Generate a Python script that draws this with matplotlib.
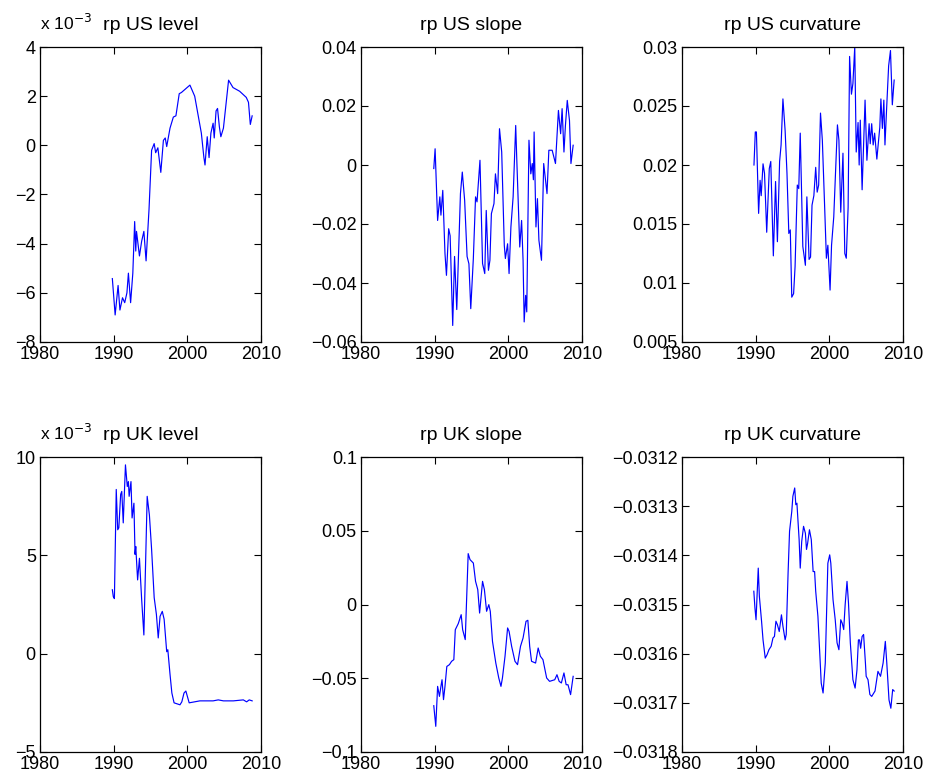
import matplotlib
matplotlib.use("Agg")
import matplotlib.pyplot as plt
import numpy as np
from matplotlib.ticker import FuncFormatter

plt.rcParams['font.family'] = ['Liberation Sans', 'DejaVu Sans']

# rp US level (values in 1e-3)
us_level_t = [1989.82, 1990.2, 1990.6, 1990.85, 1991.2, 1991.5, 1991.8, 1992.0, 1992.3, 1992.6,
              1992.85, 1993.0, 1993.1, 1993.5, 1993.8, 1994.1, 1994.4, 1994.8, 1995.15, 1995.5,
              1995.7, 1996.0, 1996.4, 1996.75, 1997.0, 1997.2, 1997.65, 1998.1, 1998.45, 1998.9,
              1999.2, 2000.35, 2001.0, 2001.6, 2001.9, 2002.25, 2002.4, 2002.7, 2002.95, 2003.2,
              2003.5, 2003.65, 2003.9, 2004.1, 2004.35, 2004.55, 2004.9, 2005.6, 2006.2, 2007.1,
              2008.0, 2008.3, 2008.55, 2008.8]
us_level_v = [-5.42, -6.9, -5.7, -6.7, -6.2, -6.4, -6.0, -5.2, -6.4, -5.2,
              -3.1, -4.3, -3.5, -4.5, -3.9, -3.5, -4.7, -2.6, -0.2, 0.07,
              -0.3, -0.1, -1.1, 0.2, 0.3, -0.05, 0.7, 1.15, 1.2, 2.1,
              2.15, 2.45, 2.0, 1.0, 0.5, -0.5, -0.8, 0.35, -0.5, 0.5,
              0.9, 0.3, 1.4, 1.5, 0.75, 0.35, 0.7, 2.65, 2.35, 2.2,
              1.95, 1.75, 0.85, 1.2]

# rp US slope
us_slope_t = [1989.88, 1990.06, 1990.4, 1990.7, 1990.85, 1991.1, 1991.4, 1991.6, 1991.9, 1992.1,
              1992.45, 1992.7, 1993.0, 1993.3, 1993.5, 1993.75, 1994.07, 1994.4, 1994.65, 1994.9,
              1995.25, 1995.55, 1995.75, 1996.15, 1996.5, 1996.8, 1997.0, 1997.3, 1997.5, 1997.7,
              1998.05, 1998.25, 1998.55, 1998.8, 1999.1, 1999.45, 1999.6, 1999.9, 2000.1, 2000.35,
              2000.65, 2001.0, 2001.15, 2001.55, 2001.8, 2002.0, 2002.15, 2002.35, 2002.5, 2002.8,
              2003.05, 2003.25, 2003.4, 2003.5, 2003.75, 2003.95, 2004.15, 2004.5, 2004.8, 2005.25,
              2005.5, 2005.95, 2006.4, 2006.8, 2007.1, 2007.3, 2007.55, 2007.75, 2008.0, 2008.3,
              2008.5, 2008.8]
us_slope_v = [-0.0012, 0.0055, -0.0188, -0.0108, -0.017, -0.0086, -0.030, -0.0374, -0.0216, -0.024,
              -0.0544, -0.031, -0.049, -0.0255, -0.0097, -0.0024, -0.012, -0.031, -0.0335, -0.0487,
              -0.0317, -0.0108, -0.0125, 0.0016, -0.0334, -0.0368, -0.0154, -0.0357, -0.0323, -0.0165,
              -0.0131, -0.003, -0.0097, 0.0123, 0.0044, -0.0272, -0.0317, -0.0267, -0.0368, -0.021,
              -0.0108, 0.0134, 0.0016, -0.0278, -0.0188, -0.0323, -0.0532, -0.0442, -0.0498, 0.0084,
              -0.003, 0.0005, -0.005, 0.0112, -0.021, -0.0114, -0.0255, -0.0323, 0.0005, -0.0097,
              0.0050, 0.0050, 0.0005, 0.0185, 0.0106, 0.0191, 0.0044, 0.0134, 0.0219, 0.0151,
              0.0005, 0.0067]

# rp US curvature
us_curv_t = [1989.77, 1989.95, 1990.1, 1990.4, 1990.6, 1990.75, 1991.0, 1991.2, 1991.4, 1991.5,
             1991.85, 1992.05, 1992.4, 1992.7, 1992.95, 1993.25, 1993.45, 1993.7, 1994.0, 1994.25,
             1994.5, 1994.7, 1994.9, 1995.15, 1995.35, 1995.65, 1995.85, 1996.05, 1996.4, 1996.75,
             1996.95, 1997.25, 1997.45, 1997.65, 1997.9, 1998.15, 1998.35, 1998.55, 1998.8, 1999.05,
             1999.35, 1999.6, 1999.8, 2000.1, 2000.3, 2000.6, 2000.85, 2001.1, 2001.3, 2001.55,
             2001.85, 2002.1, 2002.3, 2002.55, 2002.75, 2003.0, 2003.2, 2003.45, 2003.65, 2003.9,
             2004.05, 2004.2, 2004.45, 2004.85, 2005.1, 2005.4, 2005.55, 2005.75, 2005.95, 2006.15,
             2006.45, 2006.85, 2007.0, 2007.2, 2007.4, 2007.55, 2007.8, 2008.05, 2008.3, 2008.55,
             2008.8]
us_curv_v = [0.0200, 0.0228, 0.0228, 0.0159, 0.0187, 0.0174, 0.0201, 0.0193, 0.0160, 0.0143,
             0.0197, 0.0203, 0.0123, 0.0186, 0.0135, 0.0203, 0.0217, 0.0256, 0.0229, 0.0193,
             0.0142, 0.0145, 0.0088, 0.0091, 0.0114, 0.0183, 0.0180, 0.0227, 0.0131, 0.0115,
             0.0173, 0.0120, 0.0122, 0.0166, 0.0174, 0.0198, 0.0177, 0.0183, 0.0244, 0.0221,
             0.0167, 0.0121, 0.0132, 0.0094, 0.0132, 0.0156, 0.0195, 0.0234, 0.0221, 0.0160,
             0.0210, 0.0125, 0.0121, 0.0164, 0.0292, 0.0260, 0.0269, 0.0300, 0.0211, 0.0236,
             0.0200, 0.0238, 0.0179, 0.0255, 0.0204, 0.0235, 0.0218, 0.0235, 0.0217, 0.0227,
             0.0205, 0.0232, 0.0256, 0.0231, 0.0255, 0.0217, 0.0251, 0.0284, 0.0297, 0.0251,
             0.0272]

# rp UK level (values in 1e-3)
uk_level_t = [1989.82, 1989.95, 1990.1, 1990.35, 1990.55, 1990.7, 1990.95, 1991.1, 1991.3, 1991.6,
              1991.85, 1992.0, 1992.1, 1992.35, 1992.5, 1992.75, 1992.9, 1993.0, 1993.25, 1993.5,
              1993.8, 1994.1, 1994.55, 1994.85, 1995.15, 1995.5, 1995.8, 1996.05, 1996.3, 1996.6,
              1996.85, 1997.2, 1997.35, 1997.65, 1997.9, 1998.2, 1999.0, 1999.25, 1999.55, 1999.8,
              2000.25, 2001.7, 2003.5, 2004.2, 2004.9, 2006.25, 2007.6, 2008.05, 2008.4, 2008.8]
uk_level_v = [3.25, 2.9, 2.8, 8.35, 6.3, 6.4, 8.1, 8.25, 6.65, 9.6,
              8.5, 8.75, 8.0, 8.75, 6.9, 7.65, 5.05, 5.45, 3.75, 4.85,
              2.75, 0.95, 8.0, 7.05, 5.3, 2.85, 2.0, 0.8, 1.9, 2.15,
              1.75, 0.1, 0.2, -1.05, -2.0, -2.5, -2.6, -2.45, -2.0, -1.9,
              -2.5, -2.4, -2.4, -2.35, -2.4, -2.4, -2.35, -2.45, -2.35, -2.4]

# rp UK slope
uk_slope_t = [1989.88, 1990.15, 1990.4, 1990.65, 1990.85, 1991.0, 1991.2, 1991.4, 1991.65, 1992.0,
              1992.3, 1992.6, 1992.8, 1993.2, 1993.6, 1993.8, 1994.15, 1994.55, 1994.8, 1995.25,
              1995.55, 1995.85, 1996.1, 1996.5, 1996.75, 1997.05, 1997.35, 1997.55, 1997.85, 1998.3,
              1998.7, 1999.0, 1999.2, 1999.55, 1999.9, 2000.1, 2000.45, 2000.9, 2001.25, 2001.65,
              2002.0, 2002.4, 2002.65, 2002.9, 2003.15, 2003.7, 2004.05, 2004.35, 2004.7, 2005.2,
              2005.6, 2006.3, 2006.6, 2006.9, 2007.2, 2007.55, 2007.85, 2008.1, 2008.45, 2008.8]
uk_slope_v = [-0.0686, -0.0826, -0.0555, -0.0623, -0.0555, -0.051, -0.0645, -0.0555, -0.042, -0.0408,
              -0.0385, -0.0374, -0.0171, -0.013, -0.0069, -0.0171, -0.0238, 0.0345, 0.0304, 0.0281,
              0.0157, 0.0101, -0.0058, 0.0157, 0.0101, -0.0046, -0.0001, -0.0046, -0.025, -0.0397,
              -0.0498, -0.0555, -0.0498, -0.0351, -0.0159, -0.0182, -0.0284, -0.0385, -0.0408, -0.0284,
              -0.0227, -0.0114, -0.0107, -0.0284, -0.0385, -0.0397, -0.0295, -0.0351, -0.0374, -0.0498,
              -0.0521, -0.051, -0.0476, -0.0521, -0.0532, -0.0464, -0.0544, -0.0544, -0.0611, -0.0487]

# rp UK curvature
uk_curv_t = [1989.75, 1989.9, 1990.05, 1990.35, 1990.5, 1990.8, 1991.0, 1991.3, 1991.55, 1991.8,
             1992.1, 1992.35, 1992.55, 1992.75, 1992.95, 1993.2, 1993.5, 1993.7, 1994.0, 1994.15,
             1994.4, 1994.6, 1994.9, 1995.05, 1995.3, 1995.45, 1995.6, 1995.9, 1996.05, 1996.25,
             1996.5, 1996.75, 1996.9, 1997.05, 1997.3, 1997.55, 1997.8, 1998.0, 1998.15, 1998.45,
             1998.7, 1998.9, 1999.15, 1999.45, 1999.8, 2000.05, 2000.2, 2000.5, 2000.8, 2001.05,
             2001.3, 2001.55, 2001.75, 2001.95, 2002.15, 2002.4, 2002.6, 2002.85, 2003.2, 2003.5,
             2003.75, 2003.95, 2004.1, 2004.25, 2004.45, 2004.65, 2004.9, 2005.0, 2005.25, 2005.5,
             2005.75, 2006.2, 2006.6, 2006.95, 2007.3, 2007.6, 2007.8, 2008.1, 2008.35, 2008.6,
             2008.8]
uk_curv_v = [-0.031473, -0.031507, -0.031531, -0.031426, -0.031483, -0.031534, -0.031572, -0.031609, -0.031602, -0.031592,
             -0.031585, -0.031568, -0.031565, -0.031534, -0.031541, -0.031555, -0.031521, -0.031544, -0.031572, -0.031561,
             -0.031436, -0.031351, -0.031311, -0.031280, -0.031263, -0.031297, -0.031294, -0.031368, -0.031426, -0.031372,
             -0.031341, -0.031355, -0.031388, -0.031376, -0.031348, -0.031368, -0.031433, -0.031433, -0.031473, -0.031524,
             -0.031599, -0.031660, -0.031680, -0.031619, -0.031416, -0.031399, -0.031416, -0.031490, -0.031531, -0.031578,
             -0.031592, -0.031531, -0.031538, -0.031551, -0.031500, -0.031453, -0.031497, -0.031578, -0.031653, -0.031670,
             -0.031633, -0.031572, -0.031572, -0.031589, -0.031565, -0.031561, -0.031619, -0.031646, -0.031653, -0.031683,
             -0.031687, -0.031676, -0.031636, -0.031646, -0.031619, -0.031575, -0.031619, -0.031694, -0.031711, -0.031673,
             -0.031676]

panels = [
    ("rp US level", us_level_t, np.array(us_level_v) * 1e-3, (-8e-3, 4e-3), np.arange(-8, 5, 2) * 1e-3, True),
    ("rp US slope", us_slope_t, us_slope_v, (-0.06, 0.04), [-0.06, -0.04, -0.02, 0, 0.02, 0.04], False),
    ("rp US curvature", us_curv_t, us_curv_v, (0.005, 0.03), [0.005, 0.01, 0.015, 0.02, 0.025, 0.03], False),
    ("rp UK level", uk_level_t, np.array(uk_level_v) * 1e-3, (-5e-3, 10e-3), [-5e-3, 0, 5e-3, 10e-3], True),
    ("rp UK slope", uk_slope_t, uk_slope_v, (-0.1, 0.1), [-0.1, -0.05, 0, 0.05, 0.1], False),
    ("rp UK curvature", uk_curv_t, uk_curv_v, (-0.0318, -0.0312),
     [-0.0318, -0.0317, -0.0316, -0.0315, -0.0314, -0.0313, -0.0312], False),
]

fig = plt.figure(figsize=(9.29, 7.79), dpi=100)
lefts = [40 / 929, 361 / 929, 682 / 929]
bottoms = [1 - 342 / 779, 1 - 752 / 779]
w = 221 / 929
h = 295 / 779


def fmt_plain(v, pos):
    s = "%g" % round(v, 6)
    return s.replace("-", "\u2212")


def fmt_milli(v, pos):
    s = "%g" % round(v * 1e3, 6)
    return s.replace("-", "\u2212")


for i, (title, t, v, ylim, yticks, milli) in enumerate(panels):
    ax = fig.add_axes([lefts[i % 3], bottoms[i // 3], w, h])
    ax.plot(t, v, color="#0000ff", linewidth=0.85)
    ax.set_xlim(1980, 2010)
    ax.set_xticks([1980, 1990, 2000, 2010])
    ax.set_ylim(*ylim)
    ax.set_yticks(yticks)
    ax.yaxis.set_major_formatter(FuncFormatter(fmt_milli if milli else fmt_plain))
    ax.tick_params(direction="in", top=True, right=True, labelsize=13, length=5, width=0.8, pad=3)
    for sp in ax.spines.values():
        sp.set_linewidth(0.9)
    ax.set_title(title, fontsize=14, pad=12)
    if milli:
        ax.annotate("x 10$^{-3}$", xy=(0, 1), xycoords="axes fraction",
                    xytext=(0, 12), textcoords="offset points",
                    fontsize=12.5, ha="left", va="baseline")

fig.savefig("out.png", dpi=100)
